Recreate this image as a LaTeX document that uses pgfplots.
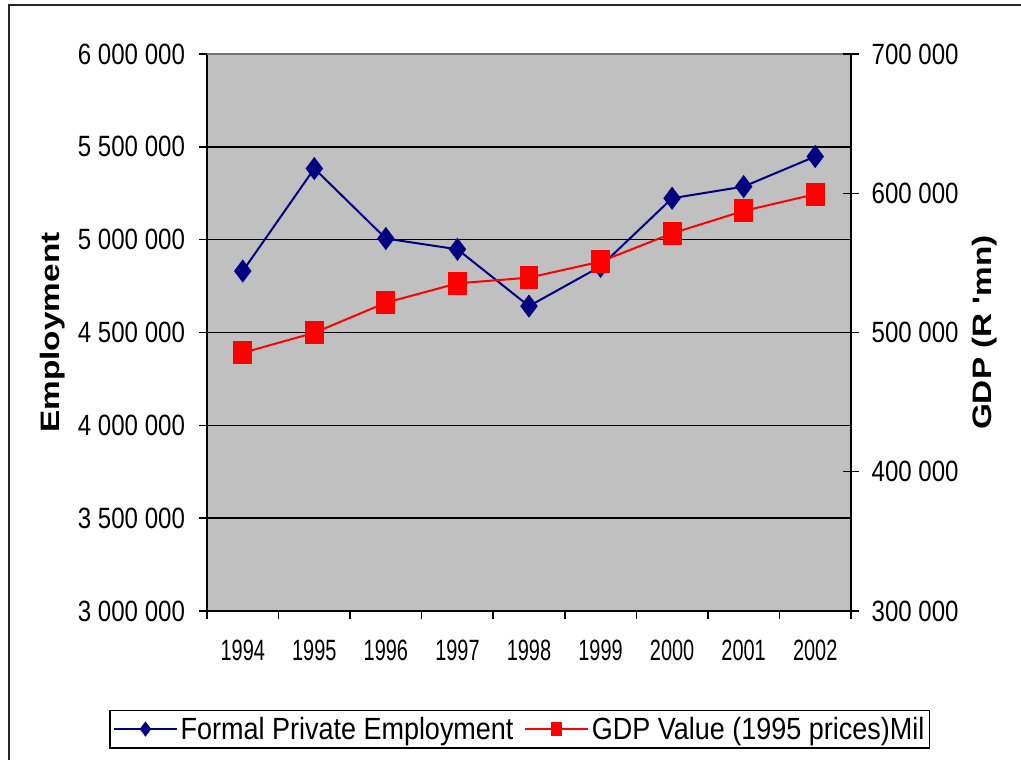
\documentclass[border=0pt]{standalone}
\usepackage{fontspec}
\setmainfont{Liberation Sans}
\usepackage{pgfplots}
\pgfplotsset{compat=1.18}
\newfontfamily\tickfont[FakeStretch=0.82]{Liberation Sans}
\newfontfamily\yearfont[FakeStretch=0.68]{Liberation Sans}
\newfontfamily\legfont[FakeStretch=0.88]{Liberation Sans}
\newfontfamily\titlefont[FakeStretch=1.25]{Liberation Sans}
\definecolor{navyblue}{RGB}{0,0,128}
\definecolor{plotbg}{RGB}{192,192,192}
\definecolor{redline}{RGB}{255,0,0}
\begin{document}
\begin{tikzpicture}
\clip (0,0) rectangle (765.75pt,570pt);
\path[use as bounding box] (0,0) rectangle (765.75pt,570pt);
\draw[line width=1.4pt, black!85] (6.75pt,-20pt) rectangle (800pt,566.25pt);
\begin{axis}[
  at={(155.25pt,111.75pt)}, anchor=south west,
  scale only axis, width=483pt, height=417.75pt,
  xmin=-0.5, xmax=8.5, ymin=3000000, ymax=6000000,
  scaled y ticks=false,
  axis background/.style={fill=plotbg},
  axis x line*=bottom, axis y line*=left,
  axis line style={line width=1.1pt, black},
  xtick={-0.5,0.5,1.5,2.5,3.5,4.5,5.5,6.5,7.5,8.5},
  x tick label as interval,
  xticklabels={1994,1995,1996,1997,1998,1999,2000,2001,2002},
  ytick={3000000,3500000,4000000,4500000,5000000,5500000,6000000},
  yticklabels={3\ 000\ 000,3\ 500\ 000,4\ 000\ 000,4\ 500\ 000,5\ 000\ 000,5\ 500\ 000,6\ 000\ 000},
  tick align=outside, major tick length=6pt,
  tick style={line width=1.1pt, black},
  ymajorgrids, grid style={line width=1.2pt, black},
  yticklabel style={font=\tickfont\fontsize{22}{24}\selectfont, xshift=-7pt},
  xticklabel style={font=\yearfont\fontsize{22}{24}\selectfont, yshift=-12pt},
  ylabel={\titlefont\bfseries Employment},
  ylabel style={at={(axis description cs:-0.239,0.5)}, anchor=center, font=\fontsize{20}{22}\selectfont},
]
\draw[line width=1.1pt, black!55] (rel axis cs:0,1) -- (rel axis cs:1,1);
\addplot[color=navyblue, line width=1.5pt, mark=diamond*, mark size=7.5pt, mark options={solid, fill=navyblue}]
coordinates {(0,4831000) (1,5383000) (2,5006000) (3,4948000) (4,4642000) (5,4856000) (6,5223000) (7,5286000) (8,5448000)};
\end{axis}
\begin{axis}[
  at={(155.25pt,111.75pt)}, anchor=south west,
  scale only axis, width=483pt, height=417.75pt,
  xmin=-0.5, xmax=8.5, ymin=300000, ymax=700000,
  scaled y ticks=false,
  axis x line=none, axis y line*=right,
  axis line style={line width=1.1pt, black},
  ytick={300000,400000,500000,600000,700000},
  yticklabels={300\ 000,400\ 000,500\ 000,600\ 000,700\ 000},
  tick align=center, major tick length=12pt,
  tick style={line width=1.1pt, black},
  yticklabel style={font=\tickfont\fontsize{22}{24}\selectfont, xshift=6pt},
  ylabel={\titlefont\bfseries GDP (R 'mn)},
  ylabel style={at={(axis description cs:1.208,0.5)}, anchor=center, font=\fontsize{20}{22}\selectfont},
  legend columns=2,
  legend style={at={(axis description cs:0.486,-0.212)}, anchor=center,
    draw=black, line width=1.2pt, fill=white,
    font=\legfont\fontsize{23}{26}\selectfont,
    inner xsep=2pt, inner ysep=3pt,
    /tikz/every even column/.append style={column sep=6pt}},
  legend cell align=left,
  legend image post style={mark size=4.5pt},
  legend image code/.code={\draw[mark repeat=2,mark phase=2,#1] plot coordinates {(0cm,0cm) (0.83cm,0cm) (1.66cm,0cm)};},
]
\addlegendimage{color=navyblue, line width=1.5pt, mark=diamond*, mark options={solid, fill=navyblue}}
\addlegendentry{Formal Private Employment}
\addplot[color=redline, line width=1.5pt, mark=square*, mark size=7.9pt, mark options={solid, fill=redline, xscale=0.8}]
coordinates {(0,485400) (1,499800) (2,521400) (3,535300) (4,539400) (5,550900) (6,571200) (7,587300) (8,599300)};
\addlegendentry{GDP Value (1995 prices)Mil}
\end{axis}
\end{tikzpicture}
\end{document}
